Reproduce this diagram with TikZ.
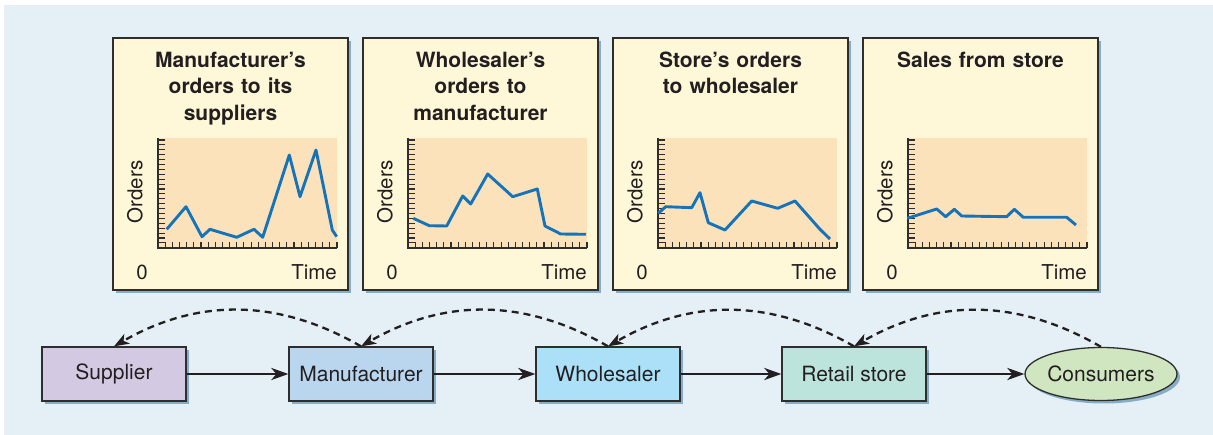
\documentclass[tikz,border=0pt]{standalone}
\usepackage{fontspec}
\setmainfont{TeX Gyre Heros}
\usetikzlibrary{arrows.meta, positioning, shapes.geometric, shadows}
\definecolor{bgblue}{HTML}{E4EFF6}
\definecolor{panelcream}{HTML}{FEF8D8}
\definecolor{plotbeige}{HTML}{FCE2BB}
\definecolor{seriesblue}{HTML}{1573BA}
\definecolor{shadowblue}{HTML}{88ACC4}
\definecolor{edgegray}{HTML}{2E2E2E}
\definecolor{inkblack}{HTML}{231F20}
\definecolor{supplierlilac}{HTML}{D4C9E2}
\definecolor{makerblue}{HTML}{BAD6EF}
\definecolor{wholesalecyan}{HTML}{ABE0F8}
\definecolor{retailmint}{HTML}{BDE3DD}
\definecolor{consumergreen}{HTML}{D0E6C0}
\tikzstyle{panel} = [rectangle, draw=edgegray, fill=panelcream, line width=1.4pt, minimum width=235pt, minimum height=252pt, inner sep=0pt, drop shadow={shadow xshift=3pt, shadow yshift=-3pt, fill=shadowblue, opacity=1}]
\tikzstyle{title} = [font=\bfseries\fontsize{21}{26.5}\selectfont, text width=232pt, align=center, inner sep=0pt, anchor=north, text=inkblack]
\tikzstyle{axislabel} = [font=\fontsize{20.5}{24}\selectfont, inner sep=0pt, text=inkblack]
\tikzstyle{tick} = [draw=edgegray, line width=1.1pt]
\tikzstyle{axis} = [draw=edgegray, line width=2pt]
\tikzstyle{series} = [draw=seriesblue, line width=2.9pt, line join=round]
\tikzstyle{stage} = [rectangle, draw=edgegray, line width=1.3pt, minimum width=144pt, minimum height=54pt, inner sep=0pt, font=\fontsize{21}{25}\selectfont, text=inkblack, drop shadow={shadow xshift=3pt, shadow yshift=-3pt, fill=shadowblue, opacity=1}]
\tikzstyle{flow} = [-{Stealth[length=17pt, width=12pt, inset=5pt]}, line width=2.6pt, draw=inkblack]
\tikzstyle{feedback} = [-{Stealth[length=15pt, width=11pt, inset=4pt]}, line width=2.3pt, dash pattern=on 7pt off 5pt, draw=inkblack]
\newcommand{\orderaxes}{%
    \fill[plotbeige] (45,138) rectangle (224,248);
    \foreach \i in {0,...,21} \draw[tick] (45,140+4.9*\i) -- ++(7,0);
    \foreach \i in {1,...,25} \draw[tick] (45+7.16*\i,248) -- ++(0,-6);
    \draw[axis] (45,138) -- (45,248) -- (224,248);
}

\begin{document}
\begin{tikzpicture}[x=1pt, y=-1pt]
    \useasboundingbox (0,0) rectangle (1213,435);
    \fill[bgblue] (4,5) rectangle (1213,435);

    % Manufacturer panel
    \begin{scope}[xshift=113pt]
        \node[panel] (panel1) at (117.5,164) {};
        \node[title] (title1) at (117.5,51.5) {Manufacturer’s\\orders to its\\suppliers};
        \orderaxes
        \draw[series] (53.7,229.3) -- (73,206.7) -- (89,236.7) -- (97,229.3) -- (123.7,237.3) -- (141,229.3) -- (149.7,237.3) -- (176.3,155) -- (187,196.7) -- (203,150) -- (219.3,230) -- (223.7,236.7);
        \node[axislabel, rotate=90] (orders1) at (22,192) {Orders};
        \node[axislabel] (zero1) at (29,272) {0};
        \node[axislabel, anchor=east] (time1) at (224,272) {Time};
    \end{scope}

    % Wholesaler panel
    \begin{scope}[xshift=363pt]
        \node[panel] (panel2) at (117.5,164) {};
        \node[title] (title2) at (117.5,51.5) {Wholesaler’s\\orders to\\manufacturer};
        \orderaxes
        \draw[series] (50.3,218.3) -- (66.3,225.7) -- (83.7,226) -- (99.7,196) -- (107.7,204) -- (124.7,174) -- (149.7,196.7) -- (174.3,189) -- (182,226) -- (197.7,234) -- (223,234.3);
        \node[axislabel, rotate=90] (orders2) at (22,192) {Orders};
        \node[axislabel] (zero2) at (29,272) {0};
        \node[axislabel, anchor=east] (time2) at (224,272) {Time};
    \end{scope}

    % Store panel
    \begin{scope}[xshift=613pt]
        \node[panel] (panel3) at (117.5,164) {};
        \node[title] (title3) at (117.5,51.5) {Store’s orders\\to wholesaler};
        \orderaxes
        \draw[series] (45.3,213.3) -- (52.7,206.7) -- (78.7,207.7) -- (87,192.7) -- (95.3,222.7) -- (112,230) -- (138.7,201) -- (164.7,208.3) -- (182,201) -- (207,229.3) -- (217,239);
        \node[axislabel, rotate=90] (orders3) at (22,192) {Orders};
        \node[axislabel] (zero3) at (29,272) {0};
        \node[axislabel, anchor=east] (time3) at (224,272) {Time};
    \end{scope}

    % Sales panel
    \begin{scope}[xshift=863pt]
        \node[panel] (panel4) at (117.5,164) {};
        \node[title] (title4) at (117.5,51.5) {Sales from store};
        \orderaxes
        \draw[series] (44.3,218.3) -- (73.7,209) -- (82.7,216.7) -- (91.3,209.3) -- (98.7,216) -- (143.7,216.7) -- (151.3,209.3) -- (160.3,217.3) -- (203.7,217.3) -- (213,225);
        \node[axislabel, rotate=90] (orders4) at (22,192) {Orders};
        \node[axislabel] (zero4) at (29,272) {0};
        \node[axislabel, anchor=east] (time4) at (224,272) {Time};
    \end{scope}

    % Supply chain
    \node[stage, fill=supplierlilac] (supplier) at (114,374) {Supplier};
    \node[stage, fill=makerblue] (maker) at (361,374) {Manufacturer};
    \node[stage, fill=wholesalecyan] (wholesaler) at (608,374) {Wholesaler};
    \node[stage, fill=retailmint] (retail) at (854,374) {Retail store};
    \node[stage, ellipse, fill=consumergreen, minimum width=145pt, minimum height=53pt] (consumers) at (1101,374) {Consumers};

    % Goods
    \draw[flow] (supplier) -- (maker);
    \draw[flow] (maker) -- (wholesaler);
    \draw[flow] (wholesaler) -- (retail);
    \draw[flow] (retail) -- (consumers);

    % Orders
    \draw[feedback] (maker.north) to[out=150, in=30] (supplier.north);
    \draw[feedback] (wholesaler.north) to[out=150, in=30] (maker.north);
    \draw[feedback] (retail.north) to[out=150, in=30] (wholesaler.north);
    \draw[feedback] (consumers.north) to[out=150, in=30] (retail.north);
\end{tikzpicture}
\end{document}
